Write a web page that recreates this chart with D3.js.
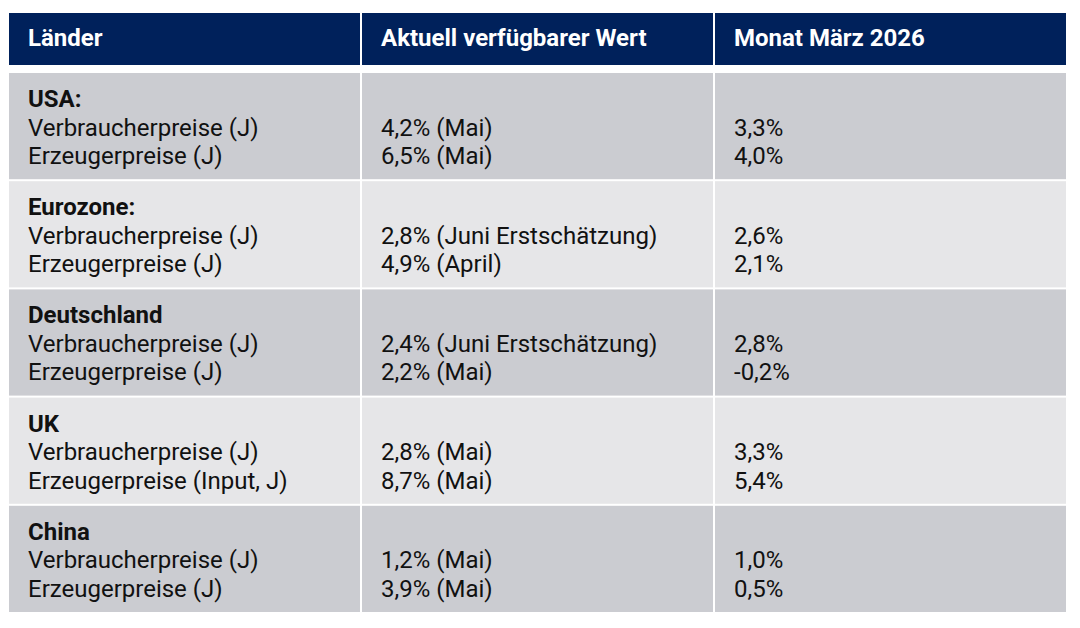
<!DOCTYPE html>
<html><head><meta charset="utf-8">
<script src="https://cdn.jsdelivr.net/npm/d3@7"></script>
<style>html,body{margin:0;padding:0;background:#fff;}svg{display:block;}</style>
</head><body>
<svg id="c" width="1080" height="628"></svg>
<script>
const headers = ["Länder", "Aktuell verfügbarer Wert", "Monat März 2026"];
const countries = ["USA:", "Eurozone:", "Deutschland", "UK", "China"];
const cpiLabels = ["Verbraucherpreise (J)", "Verbraucherpreise (J)", "Verbraucherpreise (J)", "Verbraucherpreise (J)", "Verbraucherpreise (J)"];
const ppiLabels = ["Erzeugerpreise (J)", "Erzeugerpreise (J)", "Erzeugerpreise (J)", "Erzeugerpreise (Input, J)", "Erzeugerpreise (J)"];
const cpiCurrent = ["4,2% (Mai)", "2,8% (Juni Erstschätzung)", "2,4% (Juni Erstschätzung)", "2,8% (Mai)", "1,2% (Mai)"];
const ppiCurrent = ["6,5% (Mai)", "4,9% (April)", "2,2% (Mai)", "8,7% (Mai)", "3,9% (Mai)"];
const cpiMarch = ["3,3%", "2,6%", "2,8%", "3,3%", "1,0%"];
const ppiMarch = ["4,0%", "2,1%", "-0,2%", "5,4%", "0,5%"];

const svg = d3.select("#c");
const font = "Roboto, 'Noto Sans', sans-serif";
const x = d3.scaleBand().domain(d3.range(3)).range([9, 1066]).paddingInner(2 / 353);
const y = d3.scaleBand().domain(d3.range(countries.length)).range([73, 612]).paddingInner(2 / 108);
const rowFill = i => i % 2 === 0 ? "#cbccd1" : "#e6e6e8";
const padX = 19;
const fs = 24;

// header
const hg = svg.append("g");
hg.selectAll("rect").data(headers).join("rect")
  .attr("x", (d, i) => x(i)).attr("y", 13).attr("width", x.bandwidth()).attr("height", 52)
  .attr("fill", "#00215b");
hg.selectAll("text").data(headers).join("text")
  .attr("x", (d, i) => x(i) + padX).attr("y", 46)
  .attr("fill", "#fff").attr("font-family", font).attr("font-weight", 700).attr("font-size", fs)
  .text(d => d);

// body
const rows = countries.map((c, i) => ({
  i,
  cols: [
    [{t: c, b: true}, {t: cpiLabels[i]}, {t: ppiLabels[i]}],
    [{t: ""}, {t: cpiCurrent[i]}, {t: ppiCurrent[i]}],
    [{t: ""}, {t: cpiMarch[i]}, {t: ppiMarch[i]}]
  ]
}));

const rg = svg.append("g").selectAll("g").data(rows).join("g");
rg.selectAll("rect").data(d => d.cols.map((c, j) => ({row: d.i, j}))).join("rect")
  .attr("x", d => x(d.j)).attr("y", d => y(d.row)).attr("width", x.bandwidth()).attr("height", y.bandwidth())
  .attr("fill", d => rowFill(d.row));

rg.each(function(d) {
  const g = d3.select(this);
  d.cols.forEach((col, j) => {
    g.selectAll(null).data(col).join("text")
      .attr("x", x(j) + padX)
      .attr("y", (t, k) => y(d.i) + 34 + k * 28.5)
      .attr("fill", "#111")
      .attr("font-family", font)
      .attr("font-weight", t => t.b ? 700 : 400)
      .attr("font-size", fs)
      .text(t => t.t);
  });
});
</script>
</body></html>
